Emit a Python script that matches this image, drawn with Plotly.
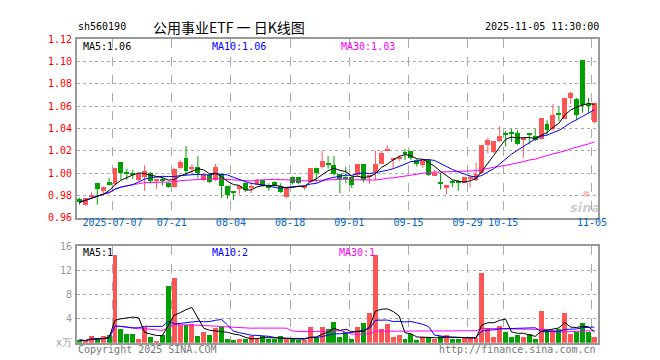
import plotly.graph_objects as go
import pandas as pd

# ---------------- data ----------------
dates = [
    "2025-06-27", "2025-06-30",
    "2025-07-01", "2025-07-02", "2025-07-03", "2025-07-04", "2025-07-07", "2025-07-08", "2025-07-09",
    "2025-07-10", "2025-07-11", "2025-07-14", "2025-07-15", "2025-07-16", "2025-07-17", "2025-07-18",
    "2025-07-21", "2025-07-22", "2025-07-23", "2025-07-24", "2025-07-25", "2025-07-28", "2025-07-29",
    "2025-07-30", "2025-07-31",
    "2025-08-01", "2025-08-04", "2025-08-05", "2025-08-06", "2025-08-07", "2025-08-08", "2025-08-11",
    "2025-08-12", "2025-08-13", "2025-08-14", "2025-08-15", "2025-08-18", "2025-08-19", "2025-08-20",
    "2025-08-21", "2025-08-22", "2025-08-25", "2025-08-26", "2025-08-27", "2025-08-28", "2025-08-29",
    "2025-09-01", "2025-09-02", "2025-09-03", "2025-09-04", "2025-09-05", "2025-09-08", "2025-09-09",
    "2025-09-10", "2025-09-11", "2025-09-12", "2025-09-15", "2025-09-16", "2025-09-17", "2025-09-18",
    "2025-09-19", "2025-09-22", "2025-09-23", "2025-09-24", "2025-09-25", "2025-09-26", "2025-09-29",
    "2025-09-30",
    "2025-10-09", "2025-10-10", "2025-10-13", "2025-10-14", "2025-10-15", "2025-10-16", "2025-10-17",
    "2025-10-20", "2025-10-21", "2025-10-22", "2025-10-23", "2025-10-24", "2025-10-27", "2025-10-28",
    "2025-10-29", "2025-10-30", "2025-10-31",
    "2025-11-03", "2025-11-04", "2025-11-05",
]

opens = [
    .9765, .9717, .979, .991, .984, .9925, .990, 1.0097, 1.000, 1.000,
    .9939, .9961, 1.0003, .993, .9936, .9911, .9878, 1.005, 1.0139, 1.004,
    1.0056, .9939, .998, .9939, .9989, .9883, .9836, .9856, .9911, .9875,
    .9897, .9939, .9892, .9919, .9889, .9786, .9961, .9961, .9864, .9917,
    1.0044, 1.0056, 1.0081, 1.0069, .9994, .9956, .9961, .9981, 1.0078, .9967,
    1.0008, 1.0086, 1.0197, 1.0119, 1.0133, 1.0189, 1.0194, 1.0119, 1.0069, 1.0114,
    .9975, .9914, .9864, .9922, .9922, .9911, .9953, .9939, 1.0003, 1.0253,
    1.0189, 1.0286, 1.0356, 1.0358, 1.0356, 1.0297, 1.0344, 1.0336, 1.0308, 1.0439,
    1.0392, 1.0531, 1.0486, 1.0675, 1.0667, 1.1014, 1.0619, 1.0458,
]
highs = [
    .978, .9778, .983, .991, .988, .996, 1.005, 1.0097, 1.004, 1.003,
    1.000, 1.0072, 1.0011, .9942, .997, .992, 1.005, 1.012, 1.0244, 1.008,
    1.0153, 1.000, 1.000, 1.0083, .999, .9883, .984, .989, .992, .9919,
    .995, .994, .9911, .993, .9911, .9875, .997, .9965, .989, 1.0044,
    1.005, 1.0203, 1.0153, 1.0153, .9994, 1.0056, .9965, 1.0081, 1.008, .998,
    1.0203, 1.0203, 1.025, 1.0133, 1.016, 1.0217, 1.0194, 1.0125, 1.0114, 1.0125,
    1.0031, 1.0003, .9897, .9939, .9939, .9961, .9981, 1.0097, 1.0253, 1.0319,
    1.0286, 1.0419, 1.0378, 1.0397, 1.0383, 1.0319, 1.0347, 1.0397, 1.0494, 1.0475,
    1.0619, 1.0592, 1.0675, 1.0731, 1.0675, 1.1014, 1.0675, 1.0633,
]
lows = [
    .972, .971, .977, .972, .982, .989, .989, .994, .994, .995,
    .993, .9842, .991, .9856, .989, .987, .987, 1.004, .998, 1.000,
    .9953, .993, .991, .993, .978, .977, .976, .981, .983, .9822,
    .9897, .988, .9842, .988, .9822, .978, .990, .9905, .985, .9915,
    .9917, 1.0042, 1.0042, .9981, .9822, .9911, .9869, .9975, .9919, .9906,
    .9939, 1.0086, 1.0197, 1.0042, 1.011, 1.0119, 1.012, 1.006, 1.005, .9975,
    .9975, .9856, .9814, .9875, .9842, .9911, .9875, .993, .9995, 1.0181,
    1.0181, 1.0281, 1.0239, 1.0281, 1.0253, 1.0139, 1.0258, 1.0286, 1.030, 1.0342,
    1.0383, 1.0467, 1.0486, 1.0619, 1.0475, 1.0542, 1.0542, 1.0447,
]
closes = [
    .974, .9778, .9805, .986, .988, .9897, 1.0044, 1.0005, .9995, .998,
    .9989, 1.0017, .9933, .9936, .9931, .9878, 1.0036, 1.0097, 1.0022, 1.005,
    1.000, .998, .9919, 1.0056, .9889, .980, .983, .9883, .985, .9889,
    .9939, .9889, .9864, .9889, .9828, .9875, .9911, .9911, .9883, 1.0044,
    1.0003, 1.0106, 1.0078, .9994, .9947, .9953, .9892, 1.0078, .9939, .998,
    1.0086, 1.0181, 1.0217, 1.0133, 1.0136, 1.0167, 1.0133, 1.0078, 1.0114, .9981,
    1.0003, .9911, .9897, .9919, .9917, .9961, .9967, .9994, 1.0253, 1.030,
    1.0286, 1.0336, 1.0342, 1.0356, 1.0258, 1.030, 1.0342, 1.030, 1.0494, 1.0389,
    1.0522, 1.0528, 1.0675, 1.0717, 1.0522, 1.0606, 1.0606, 1.0628,
]
# volume (x万)
volumes = [
    0.43, 0.27, 1.07, 0.53, 1.07, 1.33, 14.56, 2.29, 1.49, 1.49,
    0.64, 2.56, 0.96, 0.32, 1.33, 9.44, 10.72, 2.93, 2.93, 3.09,
    1.17, 1.76, 1.33, 2.4, 2.56, 0.53, 0.37, 0.53, 0.53, 1.17,
    0.8, 1.07, 0.53, 0.53, 1.07, 0.53, 0.53, 0.37, 0.37, 2.67,
    0.8, 2.67, 2.24, 3.47, 0.96, 1.71, 0.64, 2.67, 3.2, 4.96,
    14.56, 2.24, 3.04, 0.96, 1.33, 0.64, 1.44, 0.37, 0.91, 0.91,
    0.53, 1.07, 1.28, 0.69, 0.69, 0.91, 0.8, 0.8, 11.57, 2.4,
    0.96, 2.77, 1.76, 0.96, 1.33, 0.96, 1.44, 0.53, 5.17, 2.13,
    2.13, 2.24, 4.96, 1.44, 1.76, 3.2, 1.76, 0.96,
]
tick_dates = ["2025-07-07", "2025-07-21", "2025-08-04", "2025-08-18", "2025-09-01",
              "2025-09-15", "2025-09-29", "2025-10-15", "2025-11-05"]
tick_labels = ["2025-07-07", "07-21", "08-04", "08-18", "09-01", "09-15", "09-29", "10-15", "11-05"]

# ---------------- styling ----------------
W, H = 660, 360
RED = "#FF5555"
GREEN = "#00A000"
PL, PR = 70, 598            # plot left / right in px
PT, PB = 26, 211            # price panel top / bottom
VT, VB = 240, 340           # volume panel top / bottom
SLOT = (PR - PL) / 88.0
OFF = 2.5 / SLOT
MONO = "DejaVu Sans Mono"


def fx(x):
    return x / W


def fy(y):
    return 1 - y / H


n = len(dates)
idx = list(range(n))
up = [c >= o for o, c in zip(opens, closes)]
cols = [RED if u else GREEN for u in up]

body_lo = [min(o, c) for o, c in zip(opens, closes)]
body_h = [max(abs(c - o), 0.0009) for o, c in zip(opens, closes)]

s_close = pd.Series(closes)
ma5 = s_close.rolling(5, min_periods=1).mean()
ma10 = s_close.rolling(10, min_periods=1).mean()
ma30 = s_close.rolling(30, min_periods=1).mean()
s_vol = pd.Series(volumes)
vma5 = s_vol.rolling(5, min_periods=1).mean()
vma10 = s_vol.rolling(10, min_periods=1).mean()
vma30 = s_vol.rolling(30, min_periods=1).mean()

fig = go.Figure()

# wicks
for color in (RED, GREEN):
    wx, wy = [], []
    for i in idx:
        if cols[i] == color:
            wx += [i, i, None]
            wy += [lows[i], highs[i], None]
    fig.add_trace(go.Scatter(x=wx, y=wy, mode="lines", line=dict(color=color, width=1),
                             hoverinfo="skip", showlegend=False, xaxis="x", yaxis="y"))

# bodies
fig.add_trace(go.Bar(x=idx, y=body_h, base=body_lo, width=5 / SLOT,
                     marker=dict(color=cols, line=dict(width=0)),
                     showlegend=False, xaxis="x", yaxis="y"))

# price MAs
for s, c in ((ma30, "#FF00FF"), (ma10, "#0000FF"), (ma5, "#000000")):
    fig.add_trace(go.Scatter(x=idx, y=s, mode="lines", line=dict(color=c, width=1),
                             hoverinfo="skip", showlegend=False, xaxis="x", yaxis="y"))

# volume bars
fig.add_trace(go.Bar(x=idx, y=volumes, width=5 / SLOT,
                     marker=dict(color=cols, line=dict(width=0)),
                     showlegend=False, xaxis="x2", yaxis="y2"))
for s, c in ((vma30, "#FF00FF"), (vma10, "#0000FF"), (vma5, "#000000")):
    fig.add_trace(go.Scatter(x=idx, y=s, mode="lines", line=dict(color=c, width=1),
                             hoverinfo="skip", showlegend=False, xaxis="x2", yaxis="y2"))

tickvals = [dates.index(d) - OFF for d in tick_dates]
xrange = [-OFF, 88 - OFF]

axis_common = dict(showline=True, mirror=True, linecolor="#999999", linewidth=2,
                   zeroline=False, fixedrange=True)

fig.update_layout(
    width=W, height=H,
    margin=dict(l=0, r=0, t=0, b=0),
    paper_bgcolor="white", plot_bgcolor="white",
    barmode="overlay", bargap=0,
    showlegend=False,
    xaxis=dict(domain=[fx(PL), fx(PR)], range=xrange, tickmode="array",
               tickvals=tickvals, ticktext=tick_labels, showgrid=True,
               gridcolor="#AAAAAA", griddash="dash", gridwidth=1, ticks="",
               tickfont=dict(family=MONO, size=10, color="#0066CC"),
               ticklabelstandoff=-6, anchor="y", **axis_common),
    yaxis=dict(domain=[fy(PB), fy(PT)], range=[0.96, 1.12], tickmode="array",
               tickvals=[0.96, 0.98, 1.00, 1.02, 1.04, 1.06, 1.08, 1.10, 1.12],
               ticktext=["0.96", "0.98", "1.00", "1.02", "1.04", "1.06", "1.08", "1.10", "1.12"],
               showgrid=True, gridcolor="#AAAAAA", griddash="dot", gridwidth=1, ticks="",
               tickfont=dict(family=MONO, size=10, color="#FF0000"),
               ticklabelstandoff=1, anchor="x", **axis_common),
    xaxis2=dict(domain=[fx(PL), fx(PR)], range=xrange, tickmode="array",
                tickvals=tickvals, showticklabels=False, showgrid=True,
                gridcolor="#AAAAAA", griddash="dash", gridwidth=1, ticks="",
                anchor="y2", **axis_common),
    yaxis2=dict(domain=[fy(VB), fy(VT)], range=[0, 16], tickmode="array",
                tickvals=[0, 4, 8, 12, 16], ticktext=["x万", "4", "8", "12", "16"],
                showgrid=True, gridcolor="#AAAAAA", griddash="dot", gridwidth=1, ticks="",
                tickfont=dict(family=MONO, size=10, color="#999999"),
                ticklabelstandoff=1, anchor="x2", **axis_common),
)


def text(x, y, s, color="#000000", size=10, family=MONO, xanchor="left", **kw):
    fig.add_annotation(x=fx(x), y=fy(y), xref="paper", yref="paper", text=s,
                       showarrow=False, xanchor=xanchor, yanchor="middle",
                       font=dict(family=family, size=size, color=color), **kw)


# header
text(69, 13, "sh560190")
text(224, 13, "公用事业ETF 一 日K线图", size=14, family="Noto Sans CJK SC", xanchor="center")
text(601, 13, "2025-11-05 11:30:00", xanchor="right")

# MA legends (price)
text(74, 34, "MA5:1.06", "#000000")
text(205, 34, "MA10:1.06", "#0000FF")
text(336, 34, "MA30:1.03", "#FF00FF")
# MA legends (volume)
text(74, 247, "MA5:1", "#000000")
text(205, 247, "MA10:2", "#0000FF")
text(334, 247, "MA30:1", "#FF00FF")

# footer
text(69, 347, "Copyright 2025 SINA.COM", "#777777")
text(598, 347, "http://finance.sina.com.cn", "#777777", xanchor="right")

# watermark
text(587, 186, "●", "rgba(235,120,120,0.45)", size=8, family="DejaVu Sans", xanchor="center")
fig.add_annotation(x=fx(585), y=fy(200), xref="paper", yref="paper", text="<b><i>sina</i></b>",
                   showarrow=False, xanchor="center", yanchor="middle",
                   font=dict(family="DejaVu Sans", size=13, color="rgba(170,170,170,0.6)"))

fig.write_html("out.html")
